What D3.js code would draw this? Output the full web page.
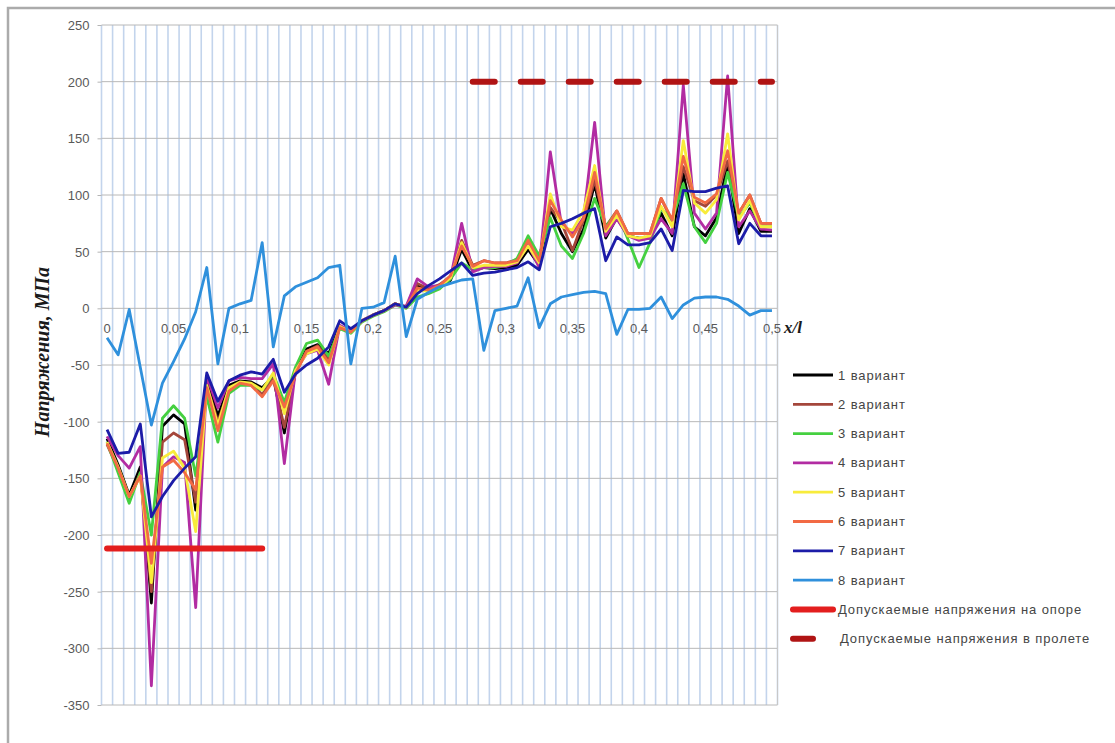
<!DOCTYPE html>
<meta charset="utf-8">
<head>
  <title>Напряжения</title>
</head>
<style>
  body { margin: 0; background: #fff; }
  .tick-label { font-family: "Liberation Sans", Arial, sans-serif; font-size: 13px; fill: #595959; }
  .legend-label { font-family: "Liberation Sans", Arial, sans-serif; font-size: 13px; letter-spacing: 0.9px; fill: #454545; }
  .axis-title { font-family: "Liberation Serif", "Times New Roman", serif; font-style: italic; font-weight: bold; fill: #1a1a1a; }
</style>
<body>
<svg id="chart" width="1115" height="743"></svg>

<script src="https://cdnjs.cloudflare.com/ajax/libs/d3/7.8.5/d3.min.js"></script>
<script>
// x/l from 0 to 0.5, 61 categories, label every 6th one
var xLabels = ["0", "0,05", "0,1", "0,15", "0,2", "0,25", "0,3", "0,35", "0,4", "0,45", "0,5"];
var yTicks = [250, 200, 150, 100, 50, 0, -50, -100, -150, -200, -250, -300, -350];

var v1 = [-115,-138,-165,-140,-260,-104,-94,-102,-178,-63,
          -95,-68,-64,-65,-70,-60,-110,-55,-36,-32,
          -40,-16,-21,-11,-6,-2,4,1,20,16,
          18,25,52,33,36,35,36,38,52,38,
          88,66,50,70,110,62,80,64,62,62,
          84,64,119,72,64,80,128,66,88,68,
          68];
var v2 = [-120,-142,-168,-145,-250,-118,-110,-116,-171,-68,
          -100,-72,-66,-67,-76,-62,-105,-57,-38,-33,
          -45,-16,-21,-11,-6,-2,4,1,22,17,
          21,28,60,38,42,40,40,43,60,44,
          89,76,51,78,113,72,86,66,66,66,
          97,77,125,95,90,100,130,84,100,75,
          75];
var v3 = [-118,-145,-172,-145,-200,-97,-86,-97,-148,-78,
          -118,-75,-68,-68,-72,-58,-83,-52,-31,-28,
          -42,-18,-22,-12,-7,-3,3,0,10,13,
          17,26,40,34,36,36,38,44,64,46,
          80,55,44,66,97,72,85,61,36,58,
          88,78,110,72,58,75,120,80,93,72,
          72];
var v4 = [-113,-130,-141,-122,-333,-140,-131,-136,-264,-60,
          -88,-64,-61,-62,-62,-49,-137,-55,-40,-37,
          -67,-15,-20,-11,-6,-2,3,2,26,19,
          20,27,75,32,36,37,37,40,56,36,
          138,74,66,80,164,64,79,64,60,62,
          79,66,197,84,70,84,205,72,86,70,
          69];
var v5 = [-118,-140,-166,-148,-242,-132,-126,-141,-197,-68,
          -103,-70,-65,-66,-72,-57,-93,-55,-40,-36,
          -50,-16,-21,-11,-6,-2,4,1,16,15,
          19,27,58,36,38,38,38,41,55,40,
          101,72,69,86,126,68,82,64,62,64,
          90,72,148,93,84,96,154,78,95,72,
          72];
var v6 = [-119,-141,-166,-148,-225,-140,-134,-145,-160,-70,
          -108,-73,-66,-68,-78,-64,-87,-58,-38,-34,
          -48,-17,-21,-11,-6,-2,4,1,18,16,
          20,29,55,37,42,40,40,42,60,42,
          95,78,63,79,120,70,86,66,66,66,
          97,78,134,98,93,101,139,84,100,75,
          75];
var v7 = [-107,-128,-127,-102,-184,-166,-152,-141,-131,-57,
          -82,-64,-59,-56,-58,-45,-74,-58,-50,-44,
          -34,-11,-18,-11,-6,-2,4,1,13,20,
          26,33,40,29,31,32,34,36,41,34,
          72,75,79,84,88,42,63,56,56,58,
          70,51,104,103,103,106,108,57,75,64,
          64];
var v8 = [-26,-41,-1,-52,-103,-66,-47,-27,-3,36,
          -49,0,4,7,58,-34,11,19,23,27,
          36,38,-49,0,1,5,46,-25,8,14,
          19,22,25,26,-37,-2,0,2,27,-17,
          4,10,12,14,15,13,-23,-1,-1,0,
          10,-9,3,9,10,10,8,2,-6,-2,
          -2];

// allowable stress: on support (first categories) and in span
var supportLimit = -212, supportFrom = 0, supportTo = 14;
var spanLimit = 200, spanFrom = 33, spanTo = 60;

var seriesNames = ["1 вариант", "2 вариант", "3 вариант", "4 вариант",
                   "5 вариант", "6 вариант", "7 вариант", "8 вариант"];
var limitNames = ["Допускаемые напряжения на опоре", "Допускаемые напряжения в пролете"];

var colors = ["#000000", "#a4463b", "#45d040", "#b22ca2", "#f8ec3c", "#f26a44", "#1c1ca8", "#2f90dc"];

var series = [v1, v2, v3, v4, v5, v6, v7, v8];
var cats = d3.range(v1.length);

var svg = d3.select("#chart");

// outer frame (top and left edges visible)
svg.append("path")
  .attr("d", "M8,743V8H1115")
  .style("fill", "none")
  .style("stroke", "#ababab")
  .style("stroke-width", 2.5);

var x = d3.scaleBand().domain(cats).range([101.5, 777.5]).paddingInner(0).paddingOuter(0);
var y = d3.scaleLinear().domain([-350, 250]).range([705, 25]);
var cx = function(i) { return x(i) + x.bandwidth() / 2; };

// vertical grid at category boundaries
var bounds = cats.map(function(i) { return x(i); }).concat([x(cats.length - 1) + x.bandwidth()]);
svg.append("g").selectAll("line")
  .data(bounds)
  .enter().append("line")
  .attr("x1", function(d) { return d; })
  .attr("x2", function(d) { return d; })
  .attr("y1", y(250))
  .attr("y2", y(-350))
  .style("stroke", "#c3d4ec")
  .style("stroke-width", 1.6);

// horizontal grid + y axis labels
var yAxis = d3.axisLeft(y).tickValues(yTicks).tickSize(4).tickFormat(function(d) { return d; });
var gy = svg.append("g").attr("transform", "translate(101.5,0)").call(yAxis);
gy.select(".domain").remove();
gy.selectAll(".tick line").style("stroke", "#b5b5b5");
gy.selectAll(".tick text").attr("class", "tick-label").attr("x", -12).attr("dy", "0.35em");

svg.append("g").selectAll("line")
  .data(yTicks)
  .enter().append("line")
  .attr("x1", 101.5)
  .attr("x2", 777.5)
  .attr("y1", function(d) { return y(d); })
  .attr("y2", function(d) { return y(d); })
  .style("stroke", "#b8b8b8")
  .style("stroke-width", 1);

// right edge of the plot
svg.append("line")
  .attr("x1", 777.5).attr("x2", 777.5)
  .attr("y1", y(250)).attr("y2", y(-350))
  .style("stroke", "#c8c8c8");

// x labels sit just under the zero line
svg.append("g").selectAll("text")
  .data(xLabels)
  .enter().append("text")
  .attr("class", "tick-label")
  .attr("text-anchor", "middle")
  .attr("x", function(d, i) { return cx(i * 6); })
  .attr("y", y(0) + 25)
  .text(function(d) { return d; });

svg.append("text")
  .attr("class", "axis-title")
  .attr("x", 784)
  .attr("y", y(0) + 25)
  .style("font-size", "17px")
  .text("x/l");

svg.append("text")
  .attr("class", "axis-title")
  .attr("text-anchor", "middle")
  .attr("transform", "translate(49,352) rotate(-90)")
  .style("font-size", "20px")
  .text("Напряжения, МПа");

// data lines
var line = d3.line()
  .x(function(d, i) { return cx(i); })
  .y(function(d) { return y(d); });

svg.append("g").selectAll("path")
  .data(series)
  .enter().append("path")
  .attr("d", line)
  .style("fill", "none")
  .style("stroke", function(d, i) { return colors[i]; })
  .style("stroke-width", 2.8)
  .style("stroke-linejoin", "round");

// allowable stress lines
svg.append("line")
  .attr("x1", cx(supportFrom)).attr("x2", cx(supportTo))
  .attr("y1", y(supportLimit)).attr("y2", y(supportLimit))
  .style("stroke", "#e31e1e")
  .style("stroke-width", 6)
  .style("stroke-linecap", "round");

svg.append("line")
  .attr("x1", cx(spanFrom)).attr("x2", cx(spanTo))
  .attr("y1", y(spanLimit)).attr("y2", y(spanLimit))
  .style("stroke", "#b01414")
  .style("stroke-width", 6)
  .style("stroke-dasharray", "22,26")
  .style("stroke-linecap", "round");

// legend
var legend = svg.append("g").attr("transform", "translate(793,375)");
var items = seriesNames.concat(limitNames);
var rows = legend.selectAll("g")
  .data(items)
  .enter().append("g")
  .attr("transform", function(d, i) { return "translate(0," + (i * 29.3) + ")"; });

rows.append("line")
  .attr("x1", 0)
  .attr("x2", function(d, i) { return i == 9 ? 20 : 40; })
  .attr("y1", 0).attr("y2", 0)
  .style("stroke", function(d, i) { return i < 8 ? colors[i] : (i == 8 ? "#e31e1e" : "#b01414"); })
  .style("stroke-width", function(d, i) { return i < 8 ? 2.8 : 6; })
  .style("stroke-linecap", function(d, i) { return i < 8 ? "butt" : "round"; });

rows.append("text")
  .attr("class", "legend-label")
  .attr("x", function(d, i) { return i == 9 ? 47 : 45; })
  .attr("y", 0)
  .attr("dy", "0.35em")
  .text(function(d) { return d; });
</script>
</body>
</html>
